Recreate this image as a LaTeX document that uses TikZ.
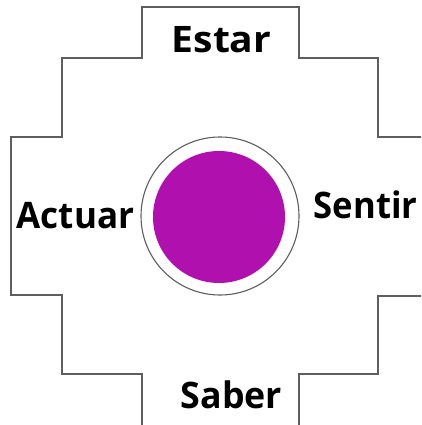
\documentclass[tikz,border=0pt]{standalone}
\usepackage{fontspec}
\setmainfont{Open Sans}
\usepackage{tikz}
\usetikzlibrary{positioning}
\definecolor{chgray}{HTML}{5E5E5E}
\definecolor{chpurple}{HTML}{B010AE}

\begin{document}
\begin{tikzpicture}[x=1pt, y=-1pt,
  outline/.style={draw=chgray, line width=1.3pt},
  ring/.style={circle, draw=chgray, line width=1.1pt, fill=white,
               minimum size=158pt, inner sep=0pt},
  core/.style={circle, fill=chpurple, minimum size=132pt, inner sep=0pt},
  word/.style={font=\fontsize{36.5}{38}\selectfont\bfseries, text=black,
               inner sep=0pt, anchor=base},
]
  \useasboundingbox (0,0) rectangle (421,425);
  \clip (0,0) rectangle (421,425);

  % Stepped cross outline.
  \draw[outline] (142,7) -- (299,7) -- (299,58) -- (378,58) -- (378,137)
    -- (431,137) -- (431,296) -- (378,296) -- (378,374) -- (299,374)
    -- (299,436) -- (142,436) -- (142,374) -- (62,374) -- (62,295)
    -- (11,295) -- (11,137) -- (62,137) -- (62,58) -- (142,58) -- cycle;

  % Centre.
  \node[ring] (ring) at (220,216) {};
  \node[core] (core) at (219,217) {};

  % Four labels.
  \node[word, xscale=1.07] (estar) at (221.5,53) {Estar};
  \node[word, xscale=0.95] (sentir) at (365.5,218) {Sentir};
  \node[word, xscale=0.96] (actuar) at (75.5,228) {Actuar};
  \node[word, xscale=0.98] (saber) at (231.5,408) {Saber};
\end{tikzpicture}
\end{document}
